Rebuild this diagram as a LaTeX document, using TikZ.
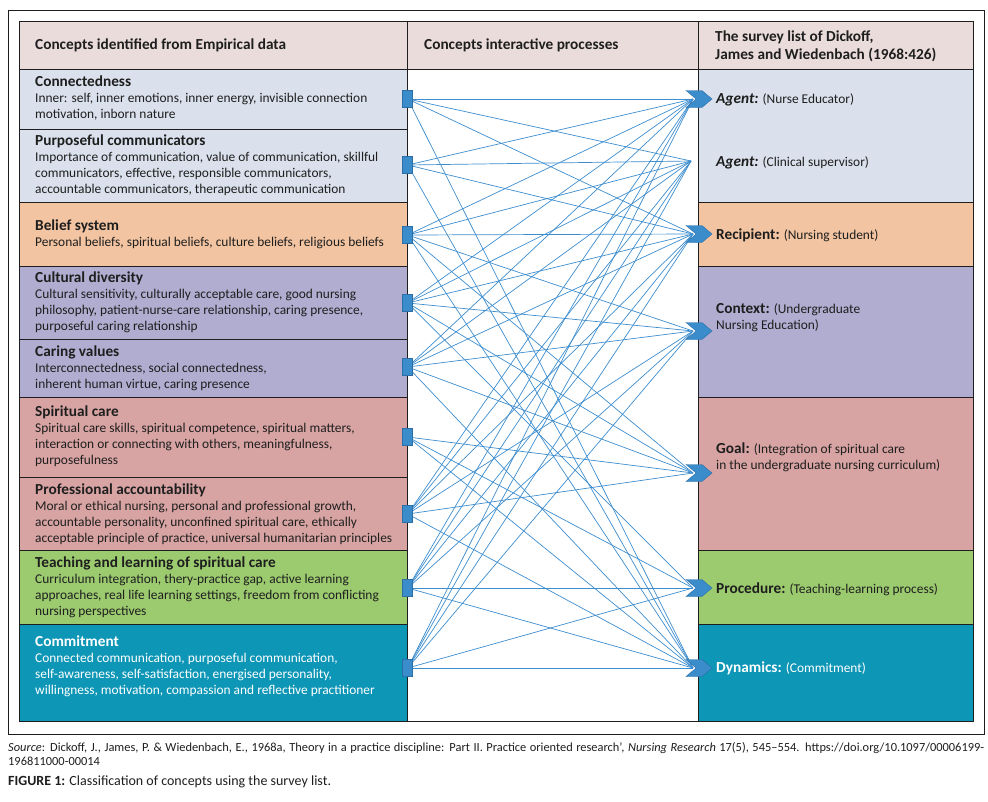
\documentclass[tikz,border=0pt]{standalone}
\usepackage{fontspec}
\setmainfont{Carlito}
\usetikzlibrary{shapes.symbols,calc}
\pgfdeclarelayer{bg}\pgfdeclarelayer{wires}
\pgfsetlayers{bg,wires,main}
\definecolor{hdr}{HTML}{EBDCDC}
\definecolor{cblue}{HTML}{DAE1EC}
\definecolor{cpeach}{HTML}{F2C4A1}
\definecolor{clav}{HTML}{B0ADD0}
\definecolor{crose}{HTML}{D8A4A3}
\definecolor{cgreen}{HTML}{9CCB6F}
\definecolor{cteal}{HTML}{0E96B6}
\definecolor{wirec}{HTML}{3E8ECF}
\definecolor{markc}{HTML}{3A8CCB}
\definecolor{markline}{HTML}{2C6EA6}
\definecolor{ink}{HTML}{1E1E1E}
\newcommand\cttl{\bfseries\fontsize{15.3}{16}\selectfont}
\newcommand\rbold{\bfseries\fontsize{15.3}{16}\selectfont}
\newcommand\rnorm{\fontsize{13.4}{16}\selectfont}
\newcommand\cellbox[6]{\node[cell, fill=#6, minimum width=#4pt, minimum height=#5pt] (#1) at (#2,#3) {};}
\begin{document}
\begin{tikzpicture}[x=1pt,y=-1pt,
  cell/.style={draw=ink, line width=0.9pt, inner sep=0pt, anchor=north west},
  sq/.style={fill=markc, draw=markline, line width=0.5pt, minimum width=10pt, minimum height=17pt, inner sep=0pt},
  chev/.style={shape=signal, signal from=west, signal to=east, signal pointer angle=80, fill=markc, draw=markline, line width=0.4pt, minimum width=26pt, minimum height=17pt, inner sep=0pt},
  wire/.style={draw=wirec, line width=0.7pt},
  lt/.style={anchor=base west, inner sep=0pt, text=ink, font=\fontsize{13.4}{16}\selectfont},
  rt/.style={anchor=base west, inner sep=0pt, text=ink, align=left, font=\rnorm},
  ht/.style={anchor=base west, inner sep=0pt, text=ink, font=\bfseries\fontsize{15.3}{18}\selectfont, align=left}]
\useasboundingbox (0,0) rectangle (988,801);
\begin{pgfonlayer}{bg}
\node[draw=ink, line width=1.1pt, inner sep=0pt, anchor=north west, minimum width=976pt, minimum height=724pt] (frame) at (8,10) {};
\cellbox{h1}{19}{21}{388}{48}{hdr}
\cellbox{h2}{407}{21}{291}{48}{hdr}
\cellbox{h3}{698}{21}{275}{48}{hdr}
\cellbox{mid}{407}{69}{291}{652}{white}
\cellbox{a1}{19}{69}{388}{60}{cblue}
\cellbox{a2}{19}{129}{388}{73}{cblue}
\cellbox{a3}{19}{202}{388}{64}{cpeach}
\cellbox{a4}{19}{266}{388}{73}{clav}
\cellbox{a5}{19}{339}{388}{58}{clav}
\cellbox{a6}{19}{397}{388}{80}{crose}
\cellbox{a7}{19}{477}{388}{73}{crose}
\cellbox{a8}{19}{550}{388}{74}{cgreen}
\cellbox{a9}{19}{624}{388}{97}{cteal}
\cellbox{b1}{698}{69}{275}{133}{cblue}
\cellbox{b2}{698}{202}{275}{64}{cpeach}
\cellbox{b3}{698}{266}{275}{131}{clav}
\cellbox{b4}{698}{397}{275}{153}{crose}
\cellbox{b5}{698}{550}{275}{74}{cgreen}
\cellbox{b6}{698}{624}{275}{97}{cteal}
\end{pgfonlayer}
% header texts
\node[ht] (h1t) at (35,49) {Concepts identified from Empirical data};
\node[ht] (h2t) at (424,49) {Concepts interactive processes};
\node[ht] (h3t) at (715,41) {The survey list of Dickoff,};
\node[ht] (h3u) at (715,59) {James and Wiedenbach (1968:426)};
% left texts
\node[lt] (a1t) at (35,86.5) {\begin{tabular}[t]{@{}l@{}}\cttl Connectedness\\ Inner: self, inner emotions, inner energy, invisible connection\\ motivation, inborn nature\end{tabular}};
\node[lt] (a2t) at (35,145.5) {\begin{tabular}[t]{@{}l@{}}\cttl Purposeful communicators\\ Importance of communication, value of communication, skillful\\ communicators, effective, responsible communicators,\\ accountable communicators, therapeutic communication\end{tabular}};
\node[lt] (a3t) at (35,230) {\begin{tabular}[t]{@{}l@{}}\cttl Belief system\\ Personal beliefs, spiritual beliefs, culture beliefs, religious beliefs\end{tabular}};
\node[lt] (a4t) at (35,282) {\begin{tabular}[t]{@{}l@{}}\cttl Cultural diversity\\ Cultural sensitivity, culturally acceptable care, good nursing\\ philosophy, patient-nurse-care relationship, caring presence,\\ purposeful caring relationship\end{tabular}};
\node[lt] (a5t) at (35,356.5) {\begin{tabular}[t]{@{}l@{}}\cttl Caring values\\ Interconnectedness, social connectedness,\\ inherent human virtue, caring presence\end{tabular}};
\node[lt] (a6t) at (35,416.5) {\begin{tabular}[t]{@{}l@{}}\cttl Spiritual care\\ Spiritual care skills, spiritual competence, spiritual matters,\\ interaction or connecting with others, meaningfulness,\\ purposefulness\end{tabular}};
\node[lt] (a7t) at (35,494.5) {\begin{tabular}[t]{@{}l@{}}\cttl Professional accountability\\ Moral or ethical nursing, personal and professional growth,\\ accountable personality, unconfined spiritual care, ethically\\ acceptable principle of practice, universal humanitarian principles\end{tabular}};
\node[lt] (a8t) at (35,567.5) {\begin{tabular}[t]{@{}l@{}}\cttl Teaching and learning of spiritual care\\ Curriculum integration, thery-practice gap, active learning\\ approaches, real life learning settings, freedom from conflicting\\ nursing perspectives\end{tabular}};
\node[lt, text=white] (a9t) at (35,646.5) {\begin{tabular}[t]{@{}l@{}}\cttl Commitment\\ Connected communication, purposeful communication,\\ self-awareness, self-satisfaction, energised personality,\\ willingness, motivation, compassion and reflective practitioner\end{tabular}};
% right texts
\node[rt] (r1t) at (716,103.5) {{\rbold\itshape Agent:} (Nurse Educator)};
\node[rt] (r2t) at (716,166) {{\rbold\itshape Agent:} (Clinical supervisor)};
\node[rt] (r3t) at (716,239) {{\rbold Recipient:} (Nursing student)};
\node[rt] (r4t) at (716,329) {{\rbold Context:} (Undergraduate\\ Nursing Education)};
\node[rt] (r5t) at (716,469.5) {{\rbold Goal:} (Integration of spiritual care\\ in the undergraduate nursing curriculum)};
\node[rt] (r6t) at (716,593) {{\rbold Procedure:} (Teaching-learning process)};
\node[rt, text=white] (r7t) at (716,672) {{\rbold Dynamics:} (Commitment)};
% markers
\node[sq] (s1) at (407.7,99) {};
\node[sq] (s2) at (407.7,165) {};
\node[sq] (s3) at (407.7,235) {};
\node[sq] (s4) at (407.7,303) {};
\node[sq] (s5) at (407.7,367) {};
\node[sq] (s6) at (407.7,437) {};
\node[sq] (s7) at (407.7,514) {};
\node[sq] (s8) at (407.7,588) {};
\node[sq] (s9) at (407.7,668) {};
\node[chev] (t1) at (699,99) {};
\coordinate (t2) at (697,161);
\node[chev] (t3) at (699,234) {};
\node[chev] (t4) at (699,331) {};
\node[chev] (t5) at (699,473) {};
\node[chev] (t6) at (699,588) {};
\node[chev] (t7) at (699,668) {};
\begin{pgfonlayer}{wires}
\foreach \s/\tl in {1/{1,2,3,7}, 2/{1,2,3,7}, 3/{1,2,3,4,5,7}, 4/{1,2,3,4,5,6}, 5/{1,2,3,4,5,7}, 6/{5,6,7}, 7/{1,2,3,4,5,7}, 8/{1,2,3,4,6,7}, 9/{1,2,3,4,6,7}}{
  \foreach \t in \tl { \draw[wire] (s\s.center) -- ($(t\t)+(-6,0)$); }
}
\end{pgfonlayer}
% caption
\node[anchor=base west, inner sep=0pt, text=ink, font=\fontsize{12.4}{14}\selectfont] (src1) at (8,751) {\makebox[976pt][s]{\textit{Source}: Dickoff, J., James, P. \& Wiedenbach, E., 1968a, Theory in a practice discipline: Part II. Practice oriented research’, \textit{Nursing Research} 17(5), 545–554. https://doi.org/10.1097/00006199-}};
\node[anchor=base west, inner sep=0pt, text=ink, font=\fontsize{12.4}{14}\selectfont] (src2) at (8,765) {196811000-00014};
\node[anchor=base west, inner sep=0pt, text=ink, font=\fontsize{14}{16}\selectfont] (fig) at (8,785.5) {\textbf{FIGURE 1:} Classification of concepts using the survey list.};
\end{tikzpicture}
\end{document}
